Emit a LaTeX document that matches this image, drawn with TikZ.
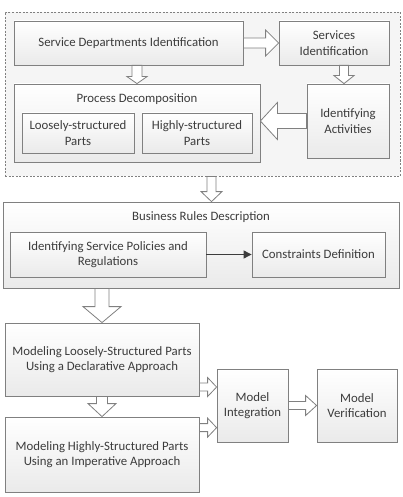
\documentclass[tikz,border=0pt]{standalone}
\usepackage{fontspec}
\setmainfont{Carlito}
\usetikzlibrary{arrows.meta,calc,shadows}
\definecolor{framegray}{RGB}{128,128,128}
\definecolor{textgray}{RGB}{60,60,60}
\definecolor{shadegray}{RGB}{234,234,234}
\definecolor{groupgray}{RGB}{245,245,245}
% hollow block arrow: start, end, shaft half width, head half width, head length
\newcommand{\blockarrow}[5]{%
  \coordinate (ba-s) at #1;
  \coordinate (ba-e) at #2;
  \coordinate (ba-h) at ($(ba-e)!#5!(ba-s)$);
  \draw[hollowarrow] ($(ba-s)!#3!90:(ba-e)$) -- ($(ba-h)!#3!90:(ba-e)$) -- ($(ba-h)!#4!90:(ba-e)$)
    -- (ba-e) -- ($(ba-h)!#4!-90:(ba-e)$) -- ($(ba-h)!#3!-90:(ba-e)$) -- ($(ba-s)!#3!-90:(ba-e)$) -- cycle;
}

\begin{document}
\begin{tikzpicture}[x=1pt,y=-1pt,
    box/.style={draw=framegray, line width=0.8pt, top color=white, bottom color=shadegray,
      align=center, text=textgray, font=\fontsize{12.8}{15.5}\selectfont, inner sep=0pt,
      drop shadow={shadow xshift=1.2pt, shadow yshift=-1.2pt, opacity=0.2}},
    title/.style={text=textgray, font=\fontsize{12.8}{15.5}\selectfont, inner sep=0pt},
    group/.style={draw=framegray, line width=0.8pt, fill=groupgray, dash pattern=on 2pt off 1.5pt},
    hollowarrow/.style={draw=framegray, line width=0.8pt, fill=white, line join=miter},
    flowline/.style={draw=textgray, line width=0.9pt, -{Triangle[length=8pt,width=8pt]}}]
  \useasboundingbox (0,0) rectangle (403,497);
  % upper dashed group
  \node[group, minimum width=395pt, minimum height=164pt] (outer) at (202.5,94) {};
  \node[box, minimum width=229pt, minimum height=44pt] (sdi) at (128.5,43) {Service Departments Identification};
  \node[box, minimum width=110pt, minimum height=44pt] (si) at (334,43) {Services\\Identification};
  \node[box, minimum width=246pt, minimum height=78pt] (pd) at (137,123) {};
  \node[title] (pdt) at (137,99) {Process Decomposition};
  \node[box, minimum width=112pt, minimum height=40pt] (lsp) at (78,133) {Loosely-structured\\Parts};
  \node[box, minimum width=110pt, minimum height=40pt] (hsp) at (197,133) {Highly-structured\\Parts};
  \node[box, minimum width=82pt, minimum height=74pt] (ia) at (348,121) {Identifying\\Activities};
  % business rules
  \node[box, minimum width=396pt, minimum height=86pt] (brd) at (201,245) {};
  \node[title] (brdt) at (201,217) {Business Rules Description};
  \node[box, minimum width=196pt, minimum height=45pt] (isp) at (108,254.5) {Identifying Service Policies and\\Regulations};
  \node[box, minimum width=133pt, minimum height=45pt] (cd) at (318.5,254.5) {Constraints Definition};
  % modeling
  \node[box, minimum width=194pt, minimum height=73pt] (mlp) at (102,359.5) {Modeling Loosely-Structured Parts\\Using a Declarative Approach};
  \node[box, minimum width=194pt, minimum height=75pt] (mhp) at (102,454.5) {Modeling Highly-Structured Parts\\Using an Imperative Approach};
  \node[box, minimum width=71pt, minimum height=73pt] (mi) at (252.5,405.5) {Model\\Integration};
  \node[box, minimum width=80pt, minimum height=73pt] (mv) at (357,405.5) {Model\\Verification};
  \coordinate (mi-in1) at ($(mi.north west)!0.25!(mi.south west)$);
  \coordinate (mi-in2) at ($(mi.north west)!0.8!(mi.south west)$);
  % arrows
  \blockarrow{(sdi.east)}{(si.west)}{5pt}{13pt}{13pt}
  \blockarrow{(pd.north |- sdi.south)}{(pd.north)}{5pt}{10pt}{7pt}
  \blockarrow{($(si.south)+(10,0)$)}{($(ia.north)+(-4,0)$)}{4.5pt}{10pt}{8pt}
  \blockarrow{(ia.west)}{(pd.east |- ia.west)}{7.5pt}{18.5pt}{17pt}
  \blockarrow{($(outer.south)+(9,0)$)}{($(brd.north)+(10.5,0)$)}{4.5pt}{10.5pt}{10pt}
  \draw[flowline] (isp) -- (cd);
  \blockarrow{(mlp.north |- brd.south)}{(mlp.north)}{7pt}{19pt}{16pt}
  \blockarrow{(mlp.south)}{(mhp.north)}{5.5pt}{14pt}{13pt}
  \blockarrow{(mlp.east |- mi-in1)}{(mi-in1)}{4pt}{9.5pt}{9pt}
  \blockarrow{(mhp.east |- mi-in2)}{(mi-in2)}{4pt}{9.5pt}{9pt}
  \blockarrow{(mi.east)}{(mv.west)}{4pt}{10pt}{11pt}
\end{tikzpicture}
\end{document}
